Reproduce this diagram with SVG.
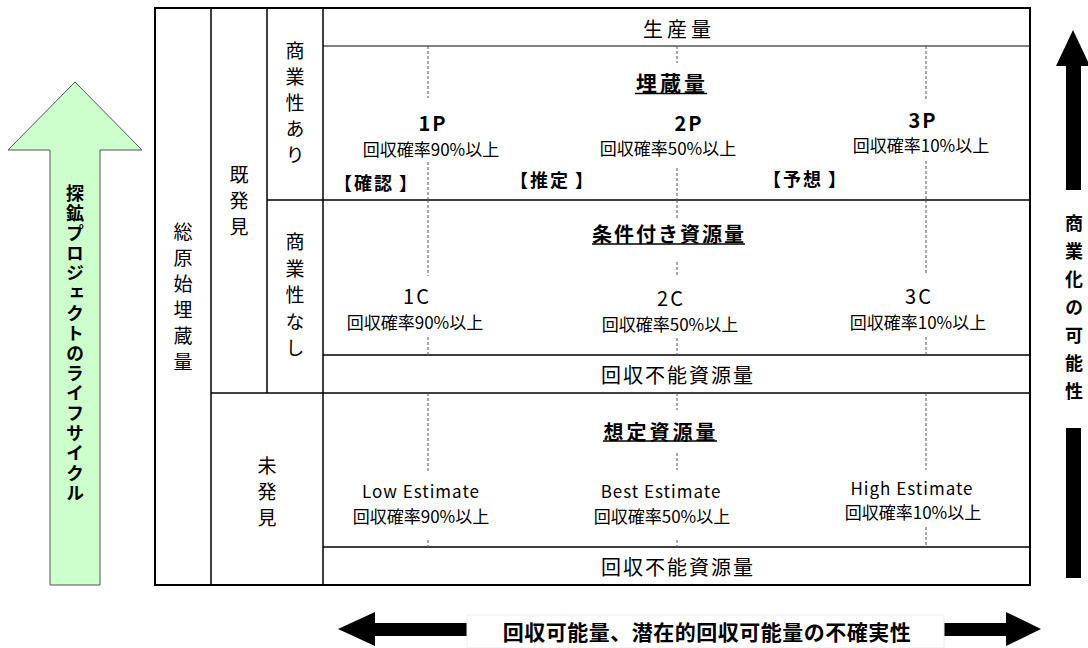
<svg xmlns="http://www.w3.org/2000/svg" width="1088" height="648" viewBox="0 0 1088 648">
<style>
text{font-family:"Noto Sans CJK JP","Noto Sans",sans-serif;fill:#000;dominant-baseline:central}
.v{writing-mode:vertical-rl;text-anchor:middle}
.c{text-anchor:middle}
.b{font-weight:bold}
.ln{stroke:#000;stroke-width:1.5;fill:none}
.dash{stroke:#555;stroke-width:1;stroke-dasharray:3 2;fill:none}
.ul{stroke:#000;stroke-width:1.5}
.p{font-size:17px}
.h{font-size:20px;letter-spacing:2px}
.br{font-size:18px;font-weight:bold}
</style>
<rect width="1088" height="648" fill="#fff"/>

<g id="lifecycle-arrow">
<polygon points="75,82 142,150 100,150 100,585 50,585 50,150 8,150" fill="#ccffcc" stroke="#555" stroke-width="1"/>
<text class="v b" x="75" y="344" style="font-size:18px;letter-spacing:2px">探鉱プロジェクトのライフサイクル</text>
</g>

<g id="commercial-arrow">
<polygon points="1073,30 1090,66 1081,66 1081,190 1066,190 1066,66 1056,66" fill="#000"/>
<rect x="1066" y="428" width="15" height="150" fill="#000"/>
<text class="v b" x="1074" y="312" style="font-size:18px;letter-spacing:10px">商業化の可能性</text>
</g>

<g id="uncertainty-arrow">
<polygon points="338,629 375,612 375,623 467,623 467,636 375,636 375,646" fill="#000"/>
<polygon points="1041,629 1006,612 1006,623 944,623 944,636 1006,636 1006,646" fill="#000"/>
<rect x="467" y="615" width="477" height="33" fill="#fff" stroke="#eee" stroke-width="1"/>
<text class="c b" x="707" y="631" style="font-size:21px;letter-spacing:0.5px">回収可能量、潜在的回収可能量の不確実性</text>
</g>

<g id="connectors">
<rect x="155" y="8" width="875" height="577" class="ln" style="stroke-width:2"/>
<line x1="211" y1="8" x2="211" y2="585" class="ln"/>
<line x1="267" y1="8" x2="267" y2="393" class="ln"/>
<line x1="323" y1="8" x2="323" y2="585" class="ln"/>
<line x1="323" y1="46" x2="1030" y2="46" class="ln" style="stroke-width:1.2"/>
<line x1="267" y1="200" x2="1030" y2="200" class="ln"/>
<line x1="323" y1="355" x2="1030" y2="355" class="ln"/>
<line x1="211" y1="393" x2="1030" y2="393" class="ln"/>
<line x1="323" y1="547" x2="1030" y2="547" class="ln"/>
<path class="dash" d="M428,46V98M428,162V200M428,200V276M428,337V355M428,393V472M428,540V547"/>
<path class="dash" d="M677,46V63M677,168V200M677,200V218M677,262V277M677,338V355M677,393V410M677,453V470M677,540V547"/>
<path class="dash" d="M926,46V101M926,161V200M926,200V275M926,337V355M926,393V470M926,527V547"/>
</g>

<g id="total">
<text class="v" x="183" y="300" style="font-size:19px;letter-spacing:7px">総原始埋蔵量</text>
</g>
<g id="discovered">
<text class="v" x="239" y="204" style="font-size:19px;letter-spacing:7px">既発見</text>
</g>
<g id="commercial">
<text class="v" x="295" y="106" style="font-size:19px;letter-spacing:7px">商業性あり</text>
</g>
<g id="non-commercial">
<text class="v" x="295" y="299" style="font-size:19px;letter-spacing:7.5px">商業性なし</text>
</g>
<g id="undiscovered">
<text class="v" x="267" y="495" style="font-size:19px;letter-spacing:7px">未発見</text>
</g>

<g id="production">
<text class="c" x="679" y="28" style="font-size:20px;letter-spacing:4px">生産量</text>
</g>

<g id="reserves">
<text class="c b" x="672" y="82" style="font-size:21px;letter-spacing:3px">埋蔵量</text>
<line class="ul" x1="635" y1="93.5" x2="707" y2="93.5"/>
<text class="c b" x="433" y="122" style="font-size:20px;letter-spacing:2px">1P</text>
<text class="c p" x="431" y="148">回収確率90%以上</text>
<text class="c b" x="689" y="122" style="font-size:20px;letter-spacing:2px">2P</text>
<text class="c p" x="668" y="147">回収確率50%以上</text>
<text class="c b" x="923" y="119" style="font-size:20px;letter-spacing:2px">3P</text>
<text class="c p" x="921" y="144">回収確率10%以上</text>
<text class="br" x="334 354 374 399" y="182">【確認】</text>
<text class="br" x="510 530 550 575" y="179">【推定】</text>
<text class="br" x="763 783 803 828" y="178">【予想】</text>
</g>

<g id="contingent">
<text class="c b" x="669" y="233" style="font-size:20px;letter-spacing:2px">条件付き資源量</text>
<line class="ul" x1="592" y1="244" x2="745" y2="244"/>
<text class="c" x="417" y="295" style="font-size:20px;letter-spacing:2px">1C</text>
<text class="c p" x="415" y="321">回収確率90%以上</text>
<text class="c" x="671" y="297" style="font-size:20px;letter-spacing:2px">2C</text>
<text class="c p" x="670" y="323">回収確率50%以上</text>
<text class="c" x="919" y="295" style="font-size:20px;letter-spacing:2px">3C</text>
<text class="c p" x="918" y="321">回収確率10%以上</text>
</g>

<g id="unrecoverable-1">
<text class="c h" x="678" y="374">回収不能資源量</text>
</g>

<g id="prospective">
<text class="c b" x="661" y="431" style="font-size:20px;letter-spacing:3px">想定資源量</text>
<line class="ul" x1="603" y1="441" x2="717" y2="441"/>
<text class="c" x="421" y="490" style="font-size:17px;letter-spacing:1px">Low Estimate</text>
<text class="c p" x="421" y="515">回収確率90%以上</text>
<text class="c" x="661" y="490" style="font-size:17px;letter-spacing:1px">Best Estimate</text>
<text class="c p" x="662" y="515">回収確率50%以上</text>
<text class="c" x="912" y="487" style="font-size:17px;letter-spacing:1px">High Estimate</text>
<text class="c p" x="913" y="511">回収確率10%以上</text>
</g>

<g id="unrecoverable-2">
<text class="c h" x="678" y="566">回収不能資源量</text>
</g>
</svg>
